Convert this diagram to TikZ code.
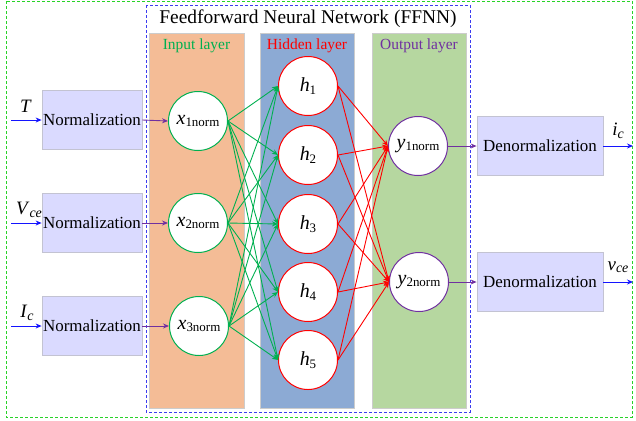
\documentclass[tikz,border=0pt]{standalone}
\usepackage{fontspec}
\setmainfont{Liberation Serif}
\usetikzlibrary{arrows.meta}
\definecolor{ngreen}{RGB}{0,176,80}
\definecolor{npurple}{RGB}{112,48,160}
\definecolor{nred}{RGB}{255,0,0}
\definecolor{nblue}{RGB}{20,20,255}
\definecolor{outgreen}{RGB}{40,210,40}
\definecolor{dashblue}{RGB}{60,60,240}
\definecolor{inbg}{RGB}{244,188,150}
\definecolor{hidbg}{RGB}{140,170,212}
\definecolor{outbg}{RGB}{182,215,160}
\definecolor{boxbg}{RGB}{218,218,255}
\definecolor{boxbd}{RGB}{195,195,210}
\newcommand{\fs}[1]{\fontsize{#1}{#1}\selectfont}
\newcommand{\nv}[2]{{\fs{20}\textit{#1}}\raisebox{-0.25em}{\fs{13}#2}}
\newcommand{\iv}[2]{{\fs{19}\textit{#1}}\raisebox{-0.25em}{\fs{14}\textit{#2}}}
\begin{document}
\begin{tikzpicture}[x=1bp,y=-1bp,
  neuron/.style={circle,draw,fill=white,line width=1pt,minimum size=59bp,inner sep=0pt},
  procbox/.style={rectangle,draw=boxbd,fill=boxbg,line width=0.8pt,inner sep=0pt,font=\fs{17}},
  layerbg/.style={draw=black!20,line width=0.6pt},
  arr/.style={-{Stealth[length=6bp,width=5bp]},line width=0.9pt},
  lbl/.style={font=\fs{15.5}}]
\useasboundingbox (0,0) rectangle (636,420);
% frames
\draw[outgreen,line width=0.9pt,dash pattern=on 3bp off 2bp] (6,1) rectangle (632,417);
\draw[dashblue,line width=0.9pt,dash pattern=on 3bp off 2bp] (146,5) rectangle (470,412);
\node[font=\fs{19.5}] (title) at (308,19) {Feedforward Neural Network (FFNN)};
% layer backgrounds
\filldraw[layerbg,fill=inbg] (149,33) rectangle (244,408);
\filldraw[layerbg,fill=hidbg] (260,33) rectangle (354,408);
\filldraw[layerbg,fill=outbg] (372,33) rectangle (466,408);
\node[lbl,text=ngreen] (linput) at (196.5,46) {Input layer};
\node[lbl,text=nred] (lhidden) at (307,46) {Hidden layer};
\node[lbl,text=npurple] (loutput) at (419,46) {Output layer};
% neurons
\node[neuron,draw=ngreen] (x1) at (198,121) {\nv{x}{1norm}};
\node[neuron,draw=ngreen] (x2) at (198,223) {\nv{x}{2norm}};
\node[neuron,draw=ngreen] (x3) at (199,326) {\nv{x}{3norm}};
\foreach \i/\y in {1/86,2/155,3/224,4/292,5/360}
  \node[neuron,draw=nred] (h\i) at (308,\y) {\nv{h}{\i}};
\node[neuron,draw=npurple] (y1) at (418,146) {\nv{y}{1norm}};
\node[neuron,draw=npurple] (y2) at (419,282) {\nv{y}{2norm}};
% boxes
\node[procbox,minimum width=100bp,minimum height=59bp] (n1) at (92,120) {Normalization};
\node[procbox,minimum width=100bp,minimum height=59bp] (n2) at (92,223) {Normalization};
\node[procbox,minimum width=100bp,minimum height=59bp] (n3) at (92,326) {Normalization};
\node[procbox,minimum width=126bp,minimum height=59bp] (d1) at (540,146) {Denormalization};
\node[procbox,minimum width=126bp,minimum height=59bp] (d2) at (540,282) {Denormalization};
% input/output coords
\coordinate (iT) at (11,120);
\coordinate (iV) at (11,223);
\coordinate (iI) at (11,326);
\coordinate (oi) at (633,146);
\coordinate (ov) at (633,282);
\draw[arr,nblue] (iT) -- (n1.west);
\draw[arr,nblue] (iV) -- (n2.west);
\draw[arr,nblue] (iI) -- (n3.west);
\draw[arr,nblue] (d1.east) -- (oi);
\draw[arr,nblue] (d2.east) -- (ov);
\node (lT) at (26,106) {{\fs{19}\textit{T}}};
\node (lV) at (29,210) {\iv{V}{ce}};
\node (lI) at (27,313) {\iv{I}{c}};
\node (li) at (618,131) {\iv{i}{c}};
\node (lv) at (618,267) {\iv{v}{ce}};
% purple arrows
\draw[arr,npurple] (n1.east) -- (x1.west);
\draw[arr,npurple] (n2.east) -- (x2.west);
\draw[arr,npurple] (n3.east) -- (x3.west);
\draw[arr,npurple] (y1.east) -- (d1.west);
\draw[arr,npurple] (y2.east) -- (d2.west);
% connections
\foreach \a in {1,2,3}
  \foreach \b in {1,...,5}
    \draw[arr,ngreen] (x\a.east) -- (h\b.west);
\foreach \a in {1,...,5}
  \foreach \b in {1,2}
    \draw[arr,nred] (h\a.east) -- (y\b.west);
\end{tikzpicture}
\end{document}
